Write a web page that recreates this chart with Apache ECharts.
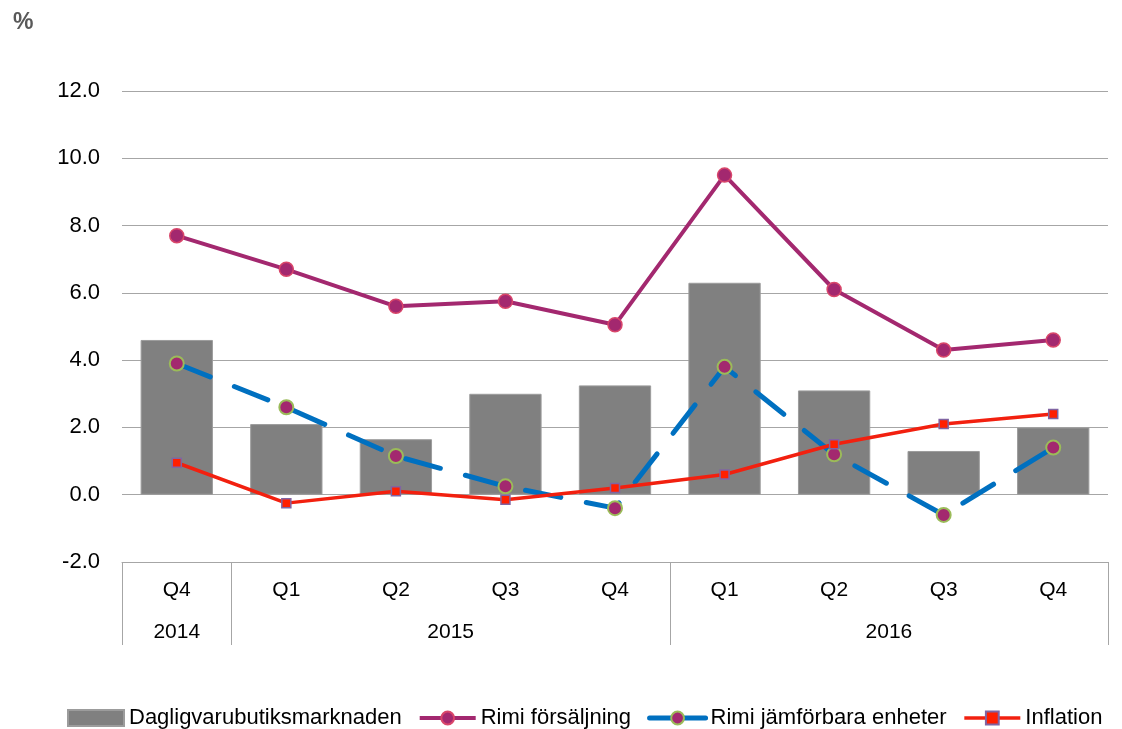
<!DOCTYPE html>
<html>
<head>
<meta charset="utf-8">
<script src="https://cdn.jsdelivr.net/npm/echarts@6/dist/echarts.min.js"></script>
<style>
  html, body { margin: 0; padding: 0; background: #fff; }
  #chart { width: 1122px; height: 729px; }
</style>
</head>
<body>
<div id="chart"></div>
<script>
// kvartal och år
var quarters = ['Q4', 'Q1', 'Q2', 'Q3', 'Q4', 'Q1', 'Q2', 'Q3', 'Q4']
var years = ['2014', '2015', '2016']
var yearSpans = [1, 4, 4] // antal kvartal per år

// serier (%)
var marknaden = [4.6, 2.1, 1.65, 3.0, 3.25, 6.3, 3.1, 1.3, 2.0]
var rimiForsaljning = [7.7, 6.7, 5.6, 5.75, 5.05, 9.5, 6.1, 4.3, 4.6]
var rimiJamforbara = [3.9, 2.6, 1.15, 0.25, -0.4, 3.8, 1.2, -0.6, 1.4]
var inflation = [0.95, -0.25, 0.1, -0.15, 0.2, 0.6, 1.5, 2.1, 2.4]

// gränser och mittpunkter för årsetiketterna
var yearBounds = [0]
var yearCenters = []
yearSpans.forEach(function (n, i) {
  var start = yearBounds[i]
  yearBounds.push(start + n)
  yearCenters.push(start + n / 2)
})

var font = 'Liberation Sans, Arial, sans-serif'
var gridColor = '#a6a6a6'

var option = {
  animation: false,
  textStyle: { fontFamily: font },
  title: {
    text: '%',
    left: 8,
    top: 6,
    textStyle: { fontSize: 23, fontWeight: 'bold', color: '#595959', fontFamily: font }
  },
  grid: { left: 122, right: 14, top: 91, bottom: 167, containLabel: false },
  legend: {
    top: 702,
    left: 62,
    width: 1100,
    itemGap: 16,
    itemWidth: 56,
    itemHeight: 16,
    textStyle: { fontSize: 22, color: '#000', fontFamily: font },
    data: [
      { name: 'Dagligvarubutiksmarknaden', icon: 'rect' },
      { name: 'Rimi försäljning', lineStyle: { width: 4 } },
      { name: 'Rimi jämförbara enheter', lineStyle: { width: 5, type: 'solid' } },
      { name: 'Inflation', lineStyle: { width: 3.5 } }
    ]
  },
  xAxis: [
    {
      type: 'category',
      data: quarters,
      position: 'bottom',
      axisLine: { onZero: false, lineStyle: { color: gridColor, width: 1 } },
      axisTick: { show: false },
      axisLabel: { fontSize: 21, color: '#000', margin: 18 }
    },
    {
      // år-raden med avgränsande linjer
      type: 'value',
      min: 0,
      max: quarters.length,
      position: 'bottom',
      splitLine: { show: false },
      axisLine: { show: false, onZero: false },
      axisTick: {
        show: true,
        length: 83,
        customValues: yearBounds,
        lineStyle: { color: gridColor, width: 1 }
      },
      axisLabel: {
        fontSize: 21,
        color: '#000',
        margin: 60,
        customValues: yearCenters,
        formatter: function (v) {
          var i = yearCenters.indexOf(v)
          return i >= 0 ? years[i] : ''
        }
      }
    }
  ],
  yAxis: {
    type: 'value',
    min: -2,
    max: 12,
    interval: 2,
    axisLine: { show: false },
    axisTick: { show: false },
    splitLine: { lineStyle: { color: gridColor, width: 1 } },
    axisLabel: {
      fontSize: 22,
      color: '#000',
      margin: 22,
      formatter: function (v) { return v.toFixed(1) }
    }
  },
  series: [
    {
      name: 'Dagligvarubutiksmarknaden',
      type: 'bar',
      barWidth: '66%',
      itemStyle: { color: '#808080', borderColor: '#9c9c9c', borderWidth: 1 },
      data: marknaden
    },
    {
      name: 'Rimi försäljning',
      type: 'line',
      symbol: 'circle',
      symbolSize: 14,
      lineStyle: { color: '#A3286F', width: 4 },
      itemStyle: { color: '#A3286F', borderColor: '#D9466A', borderWidth: 1.5 },
      data: rimiForsaljning
    },
    {
      name: 'Rimi jämförbara enheter',
      type: 'line',
      symbol: 'circle',
      symbolSize: 14,
      lineStyle: { color: '#0070C0', width: 5, type: [36, 26], cap: 'round' },
      itemStyle: { color: '#A3286F', borderColor: '#9BBB59', borderWidth: 2 },
      data: rimiJamforbara
    },
    {
      name: 'Inflation',
      type: 'line',
      symbol: 'rect',
      symbolSize: 9,
      lineStyle: { color: '#F2200F', width: 3.5 },
      itemStyle: { color: '#FF1F00', borderColor: '#8064A2', borderWidth: 1.5 },
      data: inflation
    }
  ]
}

var myChart = echarts.init(document.getElementById('chart'))
myChart.setOption(option)
</script>
</body>
</html>
